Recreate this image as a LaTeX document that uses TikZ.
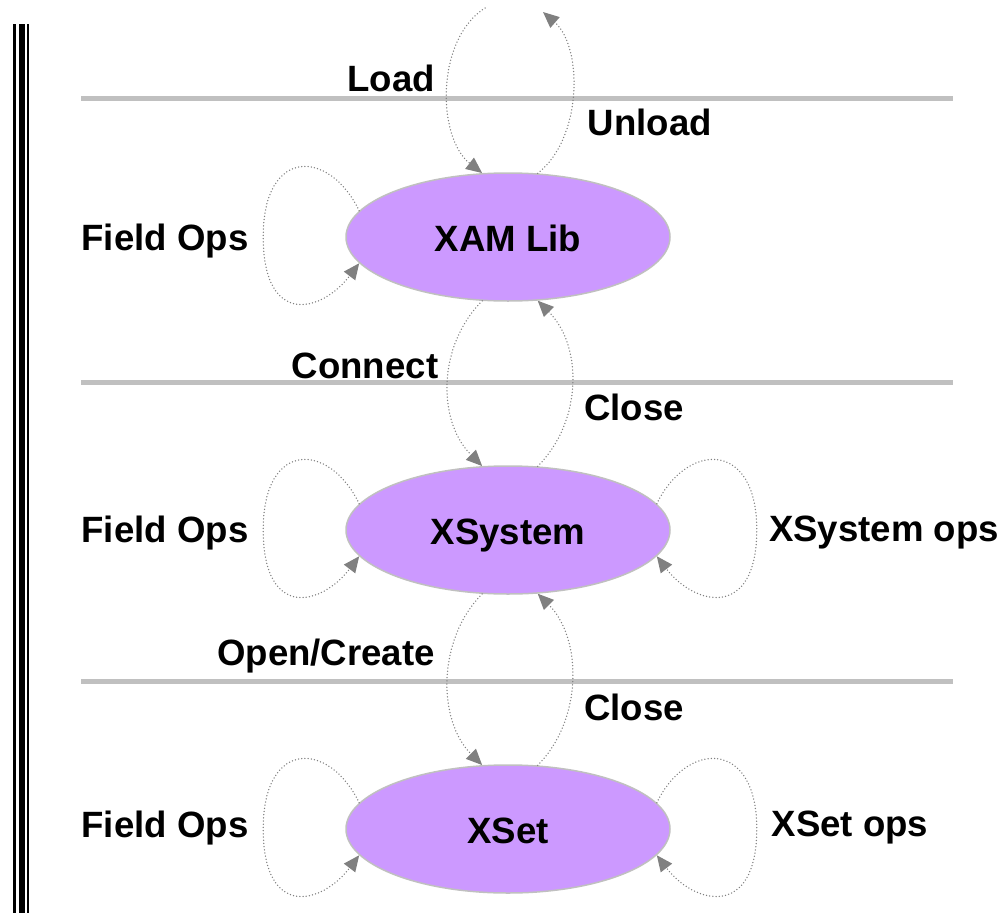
\documentclass[tikz,border=0pt]{standalone}
\usepackage{fontspec}
\setmainfont{Liberation Sans}
\usetikzlibrary{shapes.geometric,arrows.meta}
\definecolor{statefill}{HTML}{CC99FF}
\definecolor{rulegray}{HTML}{C0C0C0}
\definecolor{flowgray}{HTML}{808080}

\begin{document}
\begin{tikzpicture}[x=1pt,y=-1pt,
  bigbold/.style={font=\fontsize{36.6}{40}\selectfont\bfseries},
  state/.style={ellipse, draw=rulegray, line width=1.5pt, fill=statefill,
    minimum width=324pt, minimum height=128pt, inner sep=0pt,
    text height=29pt, text depth=0pt, bigbold},
  lbl/.style={anchor=base, inner sep=0pt, bigbold},
  flow/.style={draw=flowgray, line width=1.5pt, line cap=round,
    dash pattern=on 0pt off 3.2pt,
    -{Triangle[length=16pt,width=14pt,fill=flowgray,line cap=butt]}},
  band/.style={draw=rulegray, line width=5pt},
  rail/.style={draw=black},
]
\useasboundingbox (0,0) rectangle (1007,913);

% left margin rails
\draw[rail, line width=2.7pt] (14.7,24) -- (14.7,913);
\draw[rail, line width=6pt]   (21.7,24) -- (21.7,913);
\draw[rail, line width=2.7pt] (28,24)   -- (28,913);

% layer separators
\draw[band] (81,98)  -- (953,98);
\draw[band] (81,382) -- (953,382);
\draw[band] (81,681) -- (953,681);

% states
\node[state] (lib) at (508,237) {XAM Lib};
\node[state] (sys) at (508,530) {XSystem};
\node[state] (set) at (508,829) {XSet};

% free ends of the library load/unload transitions
\coordinate (loadsrc) at (485,8);
\coordinate (unloaddst) at (543,12);

% transitions between states
\draw[flow] (loadsrc) .. controls +(-50,32) and +(-45,-35) .. (lib.112);
\draw[flow] (lib.65) .. controls +(45,-35) and +(40,35) .. (unloaddst);

\draw[flow] (lib.248) .. controls +(-45,45) and +(-45,-45) .. (sys.112);
\draw[flow] (sys.65) .. controls +(45,-45) and +(45,45) .. (lib.295);

\draw[flow] (sys.248) .. controls +(-45,45) and +(-45,-45) .. (set.112);
\draw[flow] (set.65) .. controls +(45,-45) and +(45,45) .. (sys.295);

% self loops on the left
\foreach \s in {lib,sys,set}{
  \draw[flow] (\s.170) .. controls +(-30,-62) and +(0,-90) .. ++(-96,26)
                      .. controls +(0,90) and +(-38,50) .. (\s.190);
}
% self loops on the right
\foreach \s in {sys,set}{
  \draw[flow] (\s.10) .. controls +(30,-62) and +(0,-90) .. ++(100,26)
                     .. controls +(0,90) and +(38,50) .. (\s.350);
}

% labels
\node[lbl] (tLoad)    at (391,91)  {Load};
\node[lbl] (tUnload)  at (650,135) {Unload};
\node[lbl] (tField1)  at (165,250) {Field Ops};
\node[lbl] (tConnect) at (365,378) {Connect};
\node[lbl] (tClose1)  at (634,420) {Close};
\node[lbl] (tField2)  at (165,542) {Field Ops};
\node[lbl] (tSysOps)  at (884,541) {XSystem ops};
\node[lbl] (tOpen)    at (326,665) {Open/Create};
\node[lbl] (tClose2)  at (634,720) {Close};
\node[lbl] (tField3)  at (165,837) {Field Ops};
\node[lbl] (tSetOps)  at (850,836) {XSet ops};
\end{tikzpicture}
\end{document}
